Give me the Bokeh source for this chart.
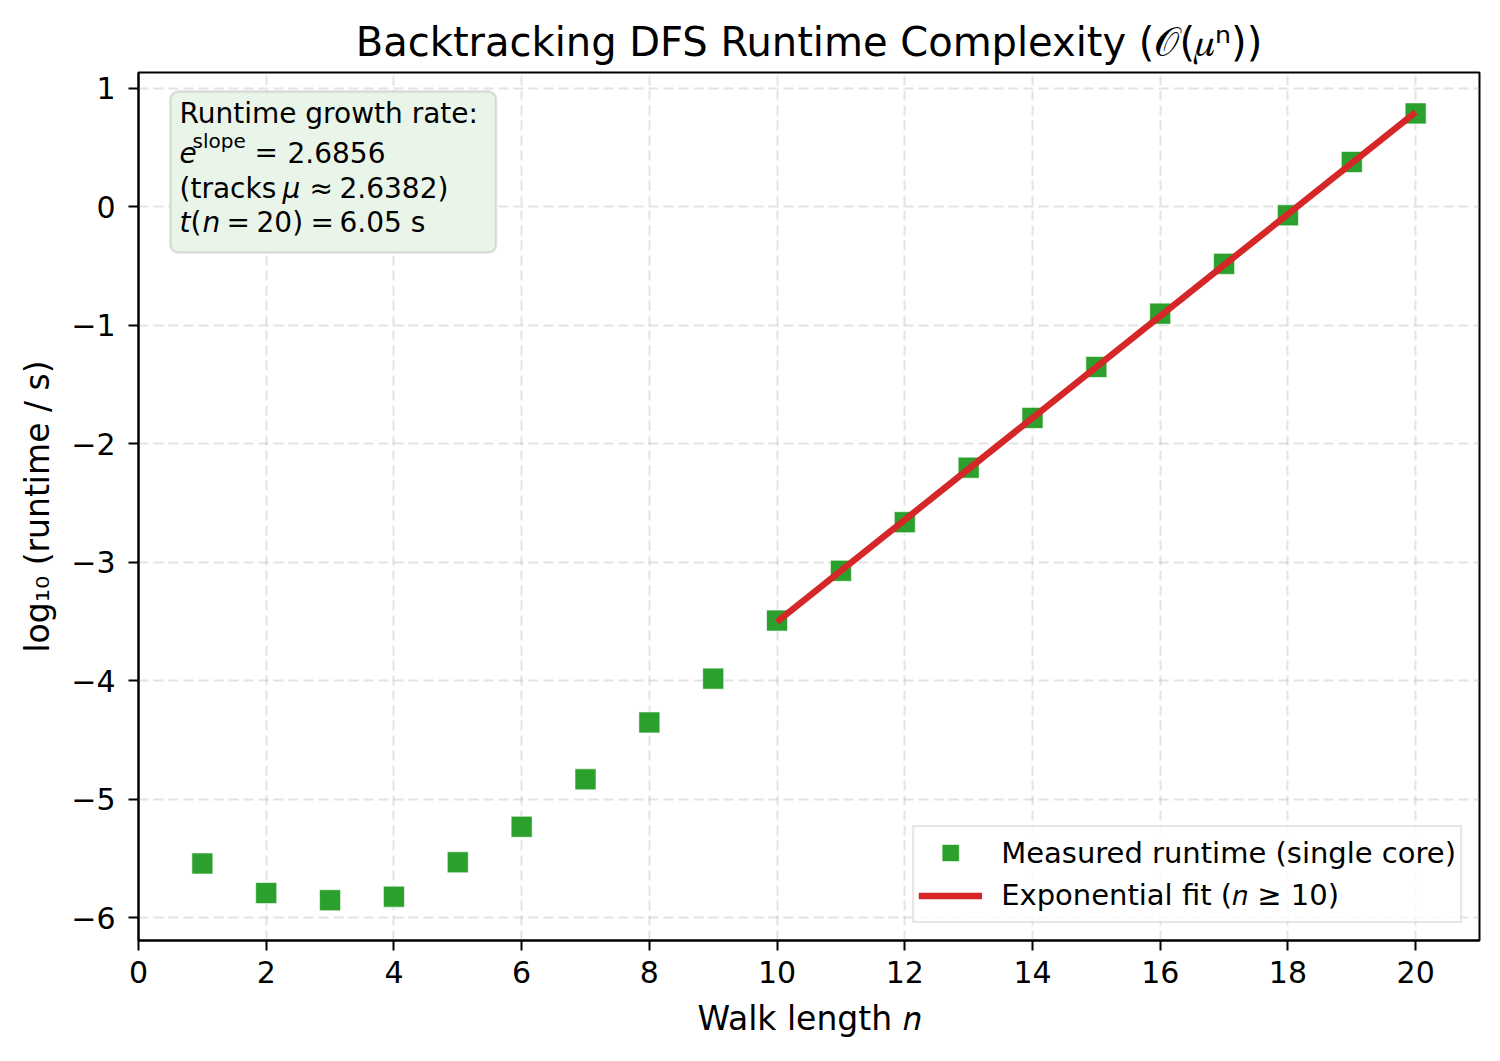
from bokeh.plotting import figure
from bokeh.embed import file_html
from bokeh.resources import INLINE
from bokeh.models import Legend, LegendItem, Label, BoxAnnotation, Title

# measured runtimes (log10 seconds) per walk length
walk_length = [1, 2, 3, 4, 5, 6, 7, 8, 9, 10, 11, 12, 13, 14, 15, 16, 17, 18, 19, 20]
log_runtime = [-5.54, -5.79, -5.85, -5.82, -5.53, -5.23, -4.83, -4.35, -3.98, -3.49,
               -3.07, -2.66, -2.20, -1.78, -1.35, -0.90, -0.48, -0.07, 0.38, 0.79]

# exponential fit for n >= 10 (end points)
fit_n = [10, 20]
fit_log_runtime = [-3.50, 0.80]

x_ticks = [0, 2, 4, 6, 8, 10, 12, 14, 16, 18, 20]
y_ticks = [-6, -5, -4, -3, -2, -1, 0, 1]

FONT = "DejaVu Sans"

p = figure(
    width=1500, height=1061,
    x_range=(0, 21), y_range=(-6.19, 1.135),
    output_backend="svg", toolbar_location=None, tools="",
    min_border_left=138, min_border_right=21,
    min_border_top=72, min_border_bottom=121,
)

p.add_layout(Title(text="Backtracking DFS Runtime Complexity (\U0001D4AA(\U0001D707\u207f))",
                   align="center", text_font=FONT, text_font_size="40px",
                   text_font_style="normal", text_color="black", standoff=16), "above")

# grid
p.grid.grid_line_color = "#b0b0b0"
p.grid.grid_line_alpha = 0.35
p.grid.grid_line_width = 2
p.grid.grid_line_dash = "10 5"

# axes
p.xaxis.ticker = x_ticks
p.yaxis.ticker = y_ticks
p.yaxis.major_label_overrides = {t: str(t).replace("-", "\u2212") for t in y_ticks}
for ax in (p.xaxis[0], p.yaxis[0]):
    ax.axis_line_width = 2
    ax.axis_line_color = "black"
    ax.major_tick_in = 0
    ax.major_tick_out = 10
    ax.major_tick_line_width = 2
    ax.minor_tick_line_color = None
    ax.major_label_text_font = FONT
    ax.major_label_text_font_size = "30px"
    ax.major_label_text_color = "black"
    ax.axis_label_text_font = FONT
    ax.axis_label_text_font_size = "33px"
    ax.axis_label_text_font_style = "normal"
    ax.axis_label_text_color = "black"
p.xaxis.major_label_standoff = 10
p.xaxis.axis_label = "Walk length \U0001D45B"
p.xaxis.axis_label_standoff = 13
p.yaxis.major_label_standoff = 13
p.yaxis.axis_label = "log\u2081\u2080 (runtime / s)"
p.yaxis.axis_label_standoff = 11

p.outline_line_color = "black"
p.outline_line_width = 2
p.outline_line_alpha = 1

pts = p.scatter(walk_length, log_runtime, marker="square", size=21,
                fill_color="#2ca02c", line_color="white", line_width=0.6)
fit = p.line(fit_n, fit_log_runtime, line_color="#d62728", line_width=6.5)

legend = Legend(items=[
    LegendItem(label="Measured runtime (single core)", renderers=[pts]),
    LegendItem(label="Exponential fit (\U0001D45B \u2265 10)", renderers=[fit]),
], location="bottom_right")
legend.label_text_font = FONT
legend.label_text_font_size = "29px"
legend.label_text_color = "black"
legend.glyph_width = 64
legend.glyph_height = 43
legend.spacing = 0
legend.padding = 4
legend.margin = 17
legend.label_standoff = 19
legend.border_line_color = "#cccccc"
legend.border_line_width = 2
legend.background_fill_alpha = 0.8
p.add_layout(legend)

# annotation box top-left
p.add_layout(BoxAnnotation(left=0.50, right=5.60, top=0.975, bottom=-0.385,
                           fill_color="#eaf5ea", fill_alpha=1.0,
                           line_color="#9a9a9a", line_width=2.5, border_radius=8,
                           level="annotation"))

ax0, ay0 = 0.642, 0.792
box_text = [
    ("Runtime growth rate:", 0, 0, "28px", "normal"),
    ("e", 0, -39, "28px", "italic"),
    ("slope", 13, -28, "20px", "normal"),
    ("=", 75, -39, "28px", "normal"),
    ("2.6856", 108, -39, "28px", "normal"),
    ("(tracks", 0, -75, "28px", "normal"),
    ("\u03bc", 103, -75, "28px", "italic"),
    ("\u2248", 130, -75, "28px", "normal"),
    ("2.6382)", 160, -75, "28px", "normal"),
    ("t", 0, -109, "28px", "italic"),
    ("(", 11, -109, "28px", "normal"),
    ("n", 23, -109, "28px", "italic"),
    ("=", 47, -109, "28px", "normal"),
    ("20)", 77, -109, "28px", "normal"),
    ("=", 131, -109, "28px", "normal"),
    ("6.05 s", 160, -109, "28px", "normal"),
]
for txt, dx, dy, fs, style in box_text:
    p.add_layout(Label(x=ax0, y=ay0, x_offset=dx, y_offset=dy, text=txt,
                       text_font=FONT, text_font_size=fs, text_font_style=style,
                       text_baseline="alphabetic", text_color="black"))

open("out.html", "w").write(file_html(p, INLINE))
